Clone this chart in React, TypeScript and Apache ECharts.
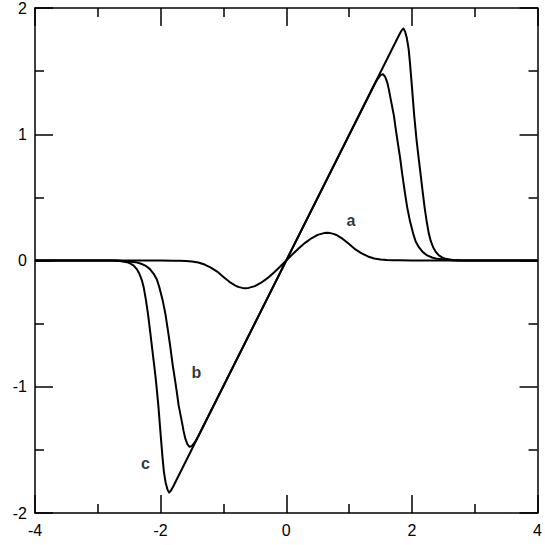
import React, { useEffect, useRef } from "react";
import * as echarts from "echarts";

// Curve a
const aX = [-4, -2.0, -1.8, -1.7, -1.6, -1.5, -1.4, -1.3, -1.2, -1.1, -1.0, -0.9, -0.8, -0.75, -0.7, -0.65, -0.6, -0.5, -0.4, -0.3, -0.2, -0.1, 0, 0.1, 0.2, 0.3, 0.4, 0.5, 0.6, 0.65, 0.7, 0.75, 0.8, 0.9, 1.0, 1.1, 1.2, 1.3, 1.4, 1.5, 1.6, 1.7, 1.8, 2.0, 4];
const aY = [0, 0, -0.001, -0.002, -0.004, -0.008, -0.016, -0.032, -0.056, -0.088, -0.13, -0.171, -0.202, -0.211, -0.217, -0.219, -0.217, -0.203, -0.176, -0.14, -0.097, -0.05, 0, 0.05, 0.097, 0.14, 0.176, 0.203, 0.217, 0.219, 0.217, 0.211, 0.202, 0.171, 0.13, 0.088, 0.056, 0.032, 0.016, 0.008, 0.004, 0.002, 0.001, 0, 0];

// Curve b
const bX = [-4, -2.7, -2.55, -2.402, -2.32, -2.243, -2.17, -2.111, -2.06, -2.021, -1.97, -1.925, -1.885, -1.846, -1.81, -1.77, -1.74, -1.714, -1.662, -1.635, -1.608, -1.575, -1.54, -1.5, -1.45, -1.4, 1.4, 1.45, 1.5, 1.54, 1.575, 1.608, 1.635, 1.662, 1.714, 1.74, 1.77, 1.81, 1.846, 1.885, 1.925, 1.97, 2.021, 2.06, 2.111, 2.17, 2.243, 2.32, 2.402, 2.55, 2.7, 4];
const bY = [0, 0, -0.005, -0.013, -0.024, -0.04, -0.068, -0.105, -0.15, -0.211, -0.31, -0.421, -0.55, -0.685, -0.82, -0.949, -1.05, -1.146, -1.278, -1.35, -1.409, -1.455, -1.476, -1.468, -1.435, -1.39, 1.39, 1.435, 1.468, 1.476, 1.455, 1.409, 1.35, 1.278, 1.146, 1.05, 0.949, 0.82, 0.685, 0.55, 0.421, 0.31, 0.211, 0.15, 0.105, 0.068, 0.04, 0.024, 0.013, 0.005, 0, 0];

// Curve c
const cX = [-4, -2.8, -2.65, -2.535, -2.48, -2.429, -2.38, -2.338, -2.3, -2.27, -2.235, -2.202, -2.17, -2.138, -2.105, -2.075, -2.037, -1.995, -1.97, -1.948, -1.92, -1.89, -1.865, -1.84, -1.8, 1.8, 1.84, 1.865, 1.89, 1.92, 1.948, 1.97, 1.995, 2.037, 2.075, 2.105, 2.138, 2.17, 2.202, 2.235, 2.27, 2.3, 2.338, 2.38, 2.429, 2.48, 2.535, 2.65, 2.8, 4];
const cY = [0, 0, -0.004, -0.013, -0.024, -0.04, -0.068, -0.105, -0.155, -0.211, -0.31, -0.421, -0.55, -0.685, -0.82, -0.949, -1.146, -1.409, -1.56, -1.674, -1.76, -1.815, -1.838, -1.825, -1.79, 1.79, 1.825, 1.838, 1.815, 1.76, 1.674, 1.56, 1.409, 1.146, 0.949, 0.82, 0.685, 0.55, 0.421, 0.31, 0.211, 0.155, 0.105, 0.068, 0.04, 0.024, 0.013, 0.004, 0, 0];

// Curve labels
const labelNames = ["a", "b", "c"];
const labelX = [1.03, -1.43, -2.24];
const labelY = [0.316, -0.885, -1.605];

// Axis ranges
const xMin = -4, xMax = 4, xStep = 2;
const yMin = -2, yMax = 2, yStep = 1;

const zip = (xs: number[], ys: number[]) => xs.map((x, i) => [x, ys[i]]);

const FONT = "'Liberation Sans', Arial, sans-serif";

export default function App() {
  const ref = useRef<HTMLDivElement>(null);
  useEffect(() => {
    if (!ref.current) return;
    const chart = echarts.init(ref.current, undefined, { renderer: "svg" });
    const axisLine = { show: true, onZero: false, lineStyle: { color: "#000", width: 1.5 } };
    const tick = { show: true, inside: true, length: 18, lineStyle: { color: "#000", width: 1.5 } };
    const minor = { show: true, splitNumber: 2, length: 9, lineStyle: { color: "#000", width: 1.5 } };
    const lbl = { color: "#000", fontSize: 16, fontFamily: FONT };
    const lineSeries = (data: number[][]) => ({
      type: "line",
      data,
      showSymbol: false,
      smooth: false,
      lineStyle: { color: "#000", width: 2, join: "round" },
      xAxisIndex: 0,
      yAxisIndex: 0,
      z: 3,
    });
    chart.setOption({
      animation: false,
      backgroundColor: "#fff",
      grid: { left: 35, top: 7, right: 6, bottom: 32, containLabel: false },
      xAxis: [
        {
          type: "value", position: "bottom", min: xMin, max: xMax, interval: xStep,
          axisLine, axisTick: tick, minorTick: minor, splitLine: { show: false },
          axisLabel: { ...lbl, margin: 9 },
        },
        {
          type: "value", position: "top", min: xMin, max: xMax, interval: xStep,
          axisLine, axisTick: tick, minorTick: minor, splitLine: { show: false },
          axisLabel: { show: false },
        },
      ],
      yAxis: [
        {
          type: "value", position: "left", min: yMin, max: yMax, interval: yStep,
          axisLine, axisTick: tick, minorTick: minor, splitLine: { show: false },
          axisLabel: { ...lbl, margin: 8 },
        },
        {
          type: "value", position: "right", min: yMin, max: yMax, interval: yStep,
          axisLine, axisTick: tick, minorTick: minor, splitLine: { show: false },
          axisLabel: { show: false },
        },
      ],
      series: [
        lineSeries(zip(aX, aY)),
        lineSeries(zip(bX, bY)),
        lineSeries(zip(cX, cY)),
        {
          type: "scatter",
          symbolSize: 0,
          data: labelNames.map((n, i) => ({ value: [labelX[i], labelY[i]], name: n })),
          label: {
            show: true,
            position: "inside",
            formatter: (p: any) => p.name,
            color: "#000",
            fontSize: 16,
            fontWeight: "bold",
            fontFamily: FONT,
          },
          z: 4,
        },
      ],
    });
    return () => chart.dispose();
  }, []);
  return <div ref={ref} style={{ position: "fixed", left: 0, top: 0, width: 545, height: 545 }} />;
}
